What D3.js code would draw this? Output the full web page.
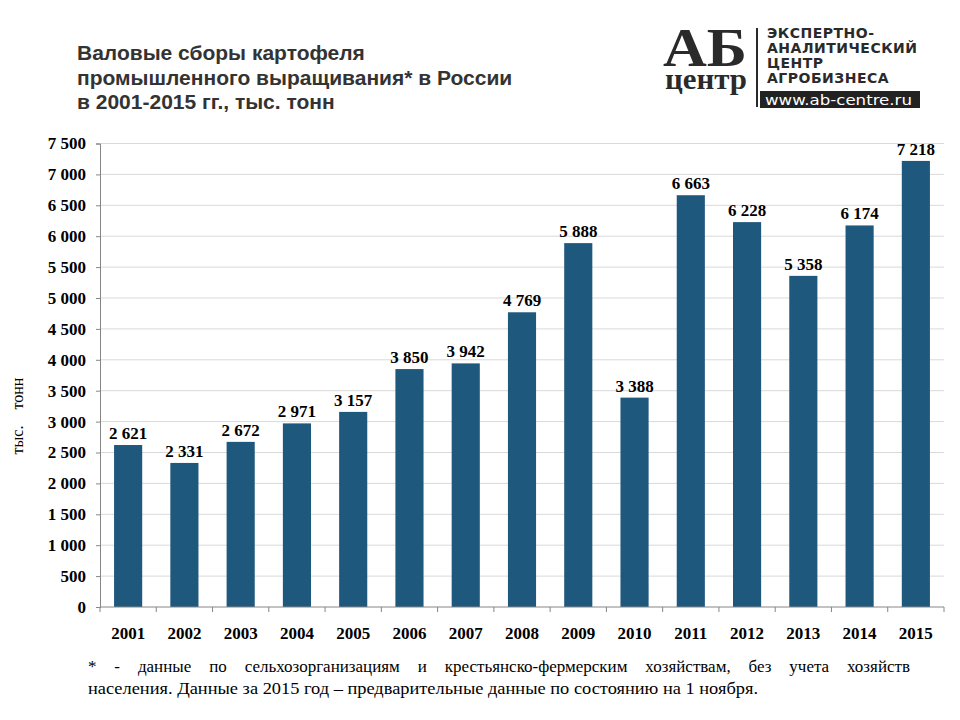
<!DOCTYPE html>
<html lang="ru">
<head>
<meta charset="UTF-8">
<title>Валовые сборы картофеля</title>
<script src="https://d3js.org/d3.v7.min.js"></script>
<style>
    body, html { margin: 0; padding: 0; background: #fff; }
    svg { display: block; }
    .title { font: bold 21px "Liberation Sans", Arial, sans-serif; fill: #333; }
    .tick-y { font: bold 17px "Liberation Serif", "Times New Roman", serif; fill: #000; }
    .tick-x { font: bold 17px "Liberation Serif", "Times New Roman", serif; fill: #000; }
    .val { font: bold 17px "Liberation Serif", "Times New Roman", serif; fill: #000; }
    .note { font: 17px "Liberation Serif", "Times New Roman", serif; fill: #000; }
</style>
</head>
<body>
<div id="chart"></div>
<script>
const years = ['2001', '2002', '2003', '2004', '2005', '2006', '2007', '2008',
    '2009', '2010', '2011', '2012', '2013', '2014', '2015'];
const harvest = [2621, 2331, 2672, 2971, 3157, 3850, 3942, 4769,
    5888, 3388, 6663, 6228, 5358, 6174, 7218];
const yTicks = [0, 500, 1000, 1500, 2000, 2500, 3000, 3500, 4000, 4500,
    5000, 5500, 6000, 6500, 7000, 7500];
const titleLines = ['Валовые сборы картофеля',
    'промышленного выращивания* в России',
    'в 2001-2015 гг., тыс. тонн'];
const noteLines = ['* - данные по сельхозорганизациям и крестьянско-фермерским хозяйствам, без учета хозяйств',
    'населения. Данные за 2015 год – предварительные данные по состоянию на 1 ноября.'];
const logoLines = ['ЭКСПЕРТНО-', 'АНАЛИТИЧЕСКИЙ', 'ЦЕНТР', 'АГРОБИЗНЕСА'];

const width = 960, height = 720;
const plotLeft = 100, plotRight = 944, plotTop = 143.5, plotBottom = 607;

const fmt = v => d3.format(',')(v).replace(/,/g, ' ');

const svg = d3.select('#chart').append('svg')
    .attr('width', width)
    .attr('height', height);

// заголовок
svg.append('g').selectAll('text')
    .data(titleLines)
    .enter().append('text')
    .attr('class', 'title')
    .attr('x', 77)
    .attr('y', (d, i) => 60 + i * 24.5)
    .text(d => d);

// логотип
const logo = svg.append('g');
const mark = logo.append('text')
    .style('fill', '#2a2a2a');
mark.append('tspan')
    .attr('x', 663).attr('y', 66)
    .attr('textLength', 84).attr('lengthAdjust', 'spacingAndGlyphs')
    .style('font', 'bold 54px "Liberation Serif", serif')
    .text('АБ');
mark.append('tspan')
    .attr('x', 665).attr('y', 89)
    .attr('textLength', 82).attr('lengthAdjust', 'spacingAndGlyphs')
    .style('font', 'bold 30px "Liberation Serif", serif')
    .text('центр');
logo.append('line')
    .attr('x1', 757).attr('x2', 757).attr('y1', 28).attr('y2', 107)
    .attr('stroke', '#2a2a2a').attr('stroke-width', 2);
logo.selectAll('.ll')
    .data(logoLines)
    .enter().append('text')
    .attr('class', 'll')
    .attr('x', 767)
    .attr('y', (d, i) => 38 + i * 15)
    .style('font', '600 14px "DejaVu Sans", sans-serif').style('fill', '#2a2a2a')
    .style('letter-spacing', '0.5px')
    .text(d => d);
logo.append('rect')
    .attr('x', 760).attr('y', 91).attr('width', 160).attr('height', 17)
    .attr('fill', '#222');
logo.append('text')
    .attr('x', 765).attr('y', 105)
    .attr('textLength', 147).attr('lengthAdjust', 'spacingAndGlyphs')
    .style('font', '14px "DejaVu Sans", sans-serif').style('fill', '#fff')
    .text('www.ab-centre.ru');

// шкалы
const x = d3.scaleBand()
    .domain(years)
    .range([plotLeft, plotRight])
    .paddingInner(0.5)
    .paddingOuter(0.25);

const y = d3.scaleLinear()
    .domain([0, 7500])
    .range([plotBottom, plotTop]);

// сетка
svg.append('g').selectAll('line')
    .data(yTicks.slice(1))
    .enter().append('line')
    .attr('x1', plotLeft).attr('x2', plotRight)
    .attr('y1', d => y(d)).attr('y2', d => y(d))
    .attr('stroke', '#d9d9d9').attr('stroke-width', 1);

// ось Y
const yAxis = svg.append('g')
    .attr('transform', `translate(${plotLeft},0)`)
    .call(d3.axisLeft(y).tickValues(yTicks).tickFormat(fmt).tickSize(4).tickPadding(10));
yAxis.select('.domain').attr('stroke', '#868686');
yAxis.selectAll('.tick line').attr('stroke', '#868686');
yAxis.selectAll('.tick text').attr('class', 'tick-y').attr('fill', null);
yAxis.attr('font-size', null).attr('font-family', null);

// столбцы
svg.append('g').selectAll('rect')
    .data(harvest)
    .enter().append('rect')
    .attr('x', (d, i) => x(years[i]))
    .attr('y', d => y(d))
    .attr('width', x.bandwidth())
    .attr('height', d => y(0) - y(d))
    .attr('fill', '#1f587d');

// подписи значений
svg.append('g').selectAll('text')
    .data(harvest)
    .enter().append('text')
    .attr('class', 'val')
    .attr('x', (d, i) => x(years[i]) + x.bandwidth() / 2)
    .attr('y', d => y(d) - 6)
    .attr('text-anchor', 'middle')
    .text(fmt);

// ось X
const step = x.step();
const xAxis = svg.append('g');
xAxis.append('line')
    .attr('x1', plotLeft).attr('x2', plotRight)
    .attr('y1', plotBottom).attr('y2', plotBottom)
    .attr('stroke', '#868686');
xAxis.selectAll('.xt')
    .data(d3.range(years.length + 1))
    .enter().append('line')
    .attr('class', 'xt')
    .attr('x1', i => plotLeft + i * step).attr('x2', i => plotLeft + i * step)
    .attr('y1', plotBottom).attr('y2', plotBottom + 5)
    .attr('stroke', '#868686');
xAxis.selectAll('text')
    .data(years)
    .enter().append('text')
    .attr('class', 'tick-x')
    .attr('x', d => x(d) + x.bandwidth() / 2)
    .attr('y', 639)
    .attr('text-anchor', 'middle')
    .text(d => d);

// подпись оси Y
svg.append('text')
    .attr('transform', 'translate(23,416) rotate(-90)')
    .attr('text-anchor', 'middle')
    .style('font', '16px "Liberation Serif", serif')
    .style('white-space', 'pre')
    .text('тыс.    тонн');

// примечание (первая строка выровнена по ширине)
const noteLeft = 88, noteRight = 910;
const words = noteLines[0].split(' ');
const measure = svg.append('text').attr('class', 'note');
const widths = words.map(w => { measure.text(w); return measure.node().getComputedTextLength(); });
measure.text(noteLines[1]);
const squeeze = Math.min(1, 670 / measure.node().getComputedTextLength());
measure.remove();
const gap = (noteRight - noteLeft - d3.sum(widths) * squeeze) / (words.length - 1);
let cx = noteLeft;
svg.append('g').selectAll('text')
    .data(words)
    .enter().append('text')
    .attr('class', 'note')
    .attr('x', (d, i) => { const p = cx; cx += widths[i] * squeeze + gap; return p; })
    .attr('y', 672)
    .attr('textLength', (d, i) => widths[i] * squeeze)
    .attr('lengthAdjust', 'spacingAndGlyphs')
    .text(d => d);
svg.append('text')
    .attr('class', 'note')
    .attr('x', noteLeft)
    .attr('y', 694)
    .attr('textLength', 670)
    .attr('lengthAdjust', 'spacingAndGlyphs')
    .text(noteLines[1]);
</script>
</body>
</html>
